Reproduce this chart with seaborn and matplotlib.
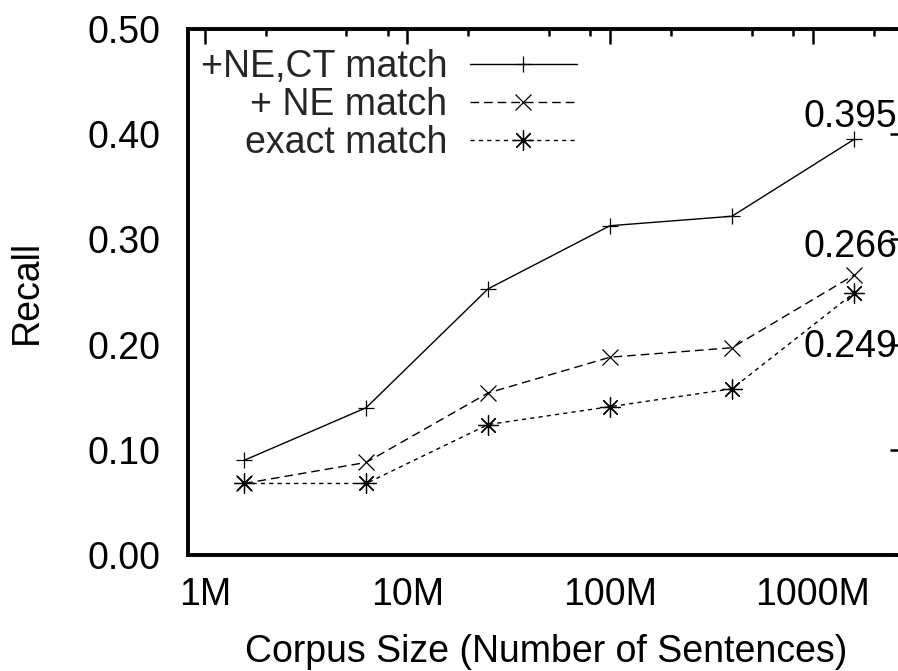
import matplotlib
matplotlib.use("Agg")
import matplotlib.pyplot as plt
import matplotlib.ticker as mticker
import seaborn as sns
import pandas as pd
import numpy as np

# ---- data ----
corpus_size_m = [1.5625, 6.25, 25, 100, 400, 1600]   # millions of sentences
recall_ne_ct = [0.090, 0.140, 0.253, 0.313, 0.322, 0.395]
recall_ne = [0.068, 0.088, 0.154, 0.188, 0.197, 0.266]
recall_exact = [0.068, 0.068, 0.124, 0.141, 0.158, 0.249]
series_names = ["+NE,CT match", "+ NE match", "exact match"]

x_major_ticks = [1, 10, 100, 1000]
x_major_labels = ["1M", "10M", "100M", "1000M"]
x_minor_ticks = [2, 5, 8, 20, 50, 80, 200, 500, 800, 2000]
y_ticks = [0.0, 0.1, 0.2, 0.3, 0.4, 0.5]

# annotation positions (x in millions, y baseline)
annot_x = 900
annot_y = [0.407, 0.2836, 0.1885]

sns.set_theme(style="white")
plt.rcParams["font.family"] = ["Liberation Sans", "DejaVu Sans"]
FS = 27

fig = plt.figure(figsize=(8.98, 6.71), dpi=100)
ax = fig.add_axes([188 / 898, (671 - 555) / 671, 717 / 898, 526 / 671])

df = pd.DataFrame({"size": corpus_size_m * 3,
                   "recall": recall_ne_ct + recall_ne + recall_exact,
                   "series": [s for s in series_names for _ in corpus_size_m]})

styles = {
    series_names[0]: dict(marker="+", markersize=11.5, linestyle="-"),
    series_names[1]: dict(marker="x", markersize=11.5, linestyle=(0, (6.2, 3.6))),
    series_names[2]: dict(marker=(8, 2, 0), markersize=14.5, linestyle=(0, (3.0, 3.0))),
}
for name in series_names:
    sub = df[df["series"] == name]
    sns.lineplot(data=sub, x="size", y="recall", ax=ax, color="black",
                 linewidth=1.0, markeredgewidth=0.9, markeredgecolor="black",
                 label=name, **styles[name])

ax.set_xscale("log")
ax.set_xlim(0.825, 2860)
ax.set_ylim(0, 0.5)
ax.xaxis.set_major_locator(mticker.FixedLocator(x_major_ticks))
ax.xaxis.set_major_formatter(mticker.FixedFormatter(x_major_labels))
ax.xaxis.set_minor_locator(mticker.FixedLocator(x_minor_ticks))
ax.xaxis.set_minor_formatter(mticker.NullFormatter())
ax.set_yticks(y_ticks)
ax.set_yticklabels([f"{v:.2f}" for v in y_ticks])

ax.tick_params(which="both", direction="in", top=True, right=True, colors="black",
               labelsize=FS)
ax.tick_params(which="major", length=10.5, width=1.8)
ax.tick_params(which="minor", length=5.2, width=1.8)
ax.tick_params(axis="x", which="major", pad=16)
ax.tick_params(axis="y", which="major", pad=20)

for sp in ax.spines.values():
    sp.set_visible(True)
    sp.set_color("black")
    sp.set_linewidth(2.8)

ax.set_xlabel("Corpus Size (Number of Sentences)", fontsize=FS, color="black")
ax.set_ylabel("Recall", fontsize=FS, color="black")
ax.xaxis.set_label_coords(0.5, -0.150)
ax.yaxis.set_label_coords(-0.199, 0.5)

for v, yy in zip([recall_ne_ct[-1], recall_ne[-1], recall_exact[-1]], annot_y):
    ax.text(annot_x, yy, f"{v:.3f}", fontsize=FS, ha="left", va="baseline",
            color="black", clip_on=False)

leg = ax.legend(loc="upper left", bbox_to_anchor=(201 / 898, 1 - 49 / 671),
                bbox_transform=fig.transFigure, frameon=False, fontsize=FS,
                markerfirst=False, handlelength=2.85, handletextpad=0.6,
                labelspacing=0.05, borderpad=0, borderaxespad=0, numpoints=1)

fig.savefig("out.png", dpi=100)
